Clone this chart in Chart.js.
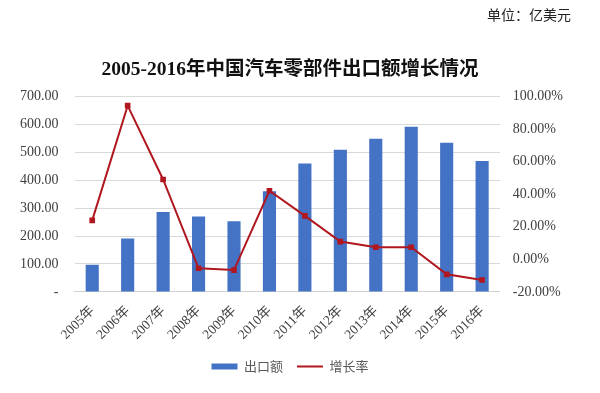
<!DOCTYPE html>
<html>
<head>
<meta charset="utf-8">
<script src="https://cdn.jsdelivr.net/npm/chart.js@4"></script>
<style>
  html, body { margin: 0; padding: 0; background: #fff; }
  #wrap { position: relative; width: 600px; height: 393px; }
  #unit {
    position: absolute; left: 487px; top: 4px;
    font: 14px "Liberation Serif", "Noto Sans CJK SC", serif; color: #222;
  }
</style>
</head>
<body>
<div id="wrap">
  <div id="unit">单位：亿美元</div>
  <canvas id="chart" width="600" height="393"></canvas>
</div>
<script>
const years = ["2005年", "2006年", "2007年", "2008年", "2009年", "2010年",
               "2011年", "2012年", "2013年", "2014年", "2015年", "2016年"];
// export value, 100 million USD
const exportValue = [97, 191, 286, 270, 253, 360, 460, 509, 548, 591, 534, 469];
// growth rate, %
const growthRate = [23.9, 94.3, 49.0, -5.5, -6.6, 42.1, 26.7, 10.9, 7.4, 7.4, -9.2, -12.7];

const serif = '"Liberation Serif", "Times New Roman", "Noto Sans CJK SC", serif';
const tickColor = "#404040";

new Chart(document.getElementById("chart"), {
  type: "bar",
  data: {
    labels: years,
    datasets: [
      {
        type: "line",
        label: "增长率",
        data: growthRate,
        yAxisID: "y1",
        borderColor: "#B0171F",
        backgroundColor: "#B0171F",
        borderWidth: 2,
        pointStyle: "rect",
        pointRadius: 4,
        pointBorderWidth: 0,
        tension: 0,
        order: 0
      },
      {
        label: "出口额",
        data: exportValue,
        yAxisID: "y",
        backgroundColor: "#4472C4",
        barPercentage: 0.37,
        categoryPercentage: 1,
        order: 1
      }
    ]
  },
  options: {
    responsive: false,
    animation: false,
    layout: { padding: { left: 4, right: 24, bottom: 10 } },
    plugins: {
      title: {
        display: true,
        text: "2005-2016年中国汽车零部件出口额增长情况",
        color: "#111",
        font: { family: serif, size: 19.5, weight: "bold" },
        padding: { top: 58, bottom: 15 }
      },
      legend: {
        position: "bottom",
        reverse: true,
        labels: {
          color: "#595959",
          font: { family: '"Noto Sans CJK SC", sans-serif', size: 13 },
          usePointStyle: true,
          pointStyleWidth: 26,
          boxWidth: 26,
          boxHeight: 6,
          padding: 14,
          generateLabels(chart) {
            const items = Chart.defaults.plugins.legend.labels.generateLabels(chart);
            items.forEach(it => {
              const ds = chart.data.datasets[it.datasetIndex];
              it.pointStyle = ds.type === "line" ? "line" : "rect";
              if (ds.type === "line") { it.lineWidth = 2; }
            });
            return items;
          }
        }
      },
      tooltip: { enabled: false }
    },
    scales: {
      x: {
        grid: { display: false },
        border: { color: "#d0d0d0" },
        ticks: {
          color: tickColor,
          font: { family: serif, size: 13.5 },
          minRotation: 45,
          maxRotation: 45,
          padding: 3
        }
      },
      y: {
        position: "left",
        min: 0,
        max: 700,
        border: { display: false },
        grid: { color: "#d9d9d9", drawTicks: false },
        ticks: {
          stepSize: 100,
          color: tickColor,
          padding: 16,
          font: { family: serif, size: 14 },
          callback: v => v === 0 ? "-" : v.toFixed(2)
        }
      },
      y1: {
        position: "right",
        min: -20,
        max: 100,
        border: { display: false },
        grid: { display: false, drawTicks: false },
        ticks: {
          stepSize: 20,
          color: tickColor,
          padding: 13,
          font: { family: serif, size: 14 },
          callback: v => v.toFixed(2) + "%"
        }
      }
    }
  }
});
</script>
</body>
</html>
